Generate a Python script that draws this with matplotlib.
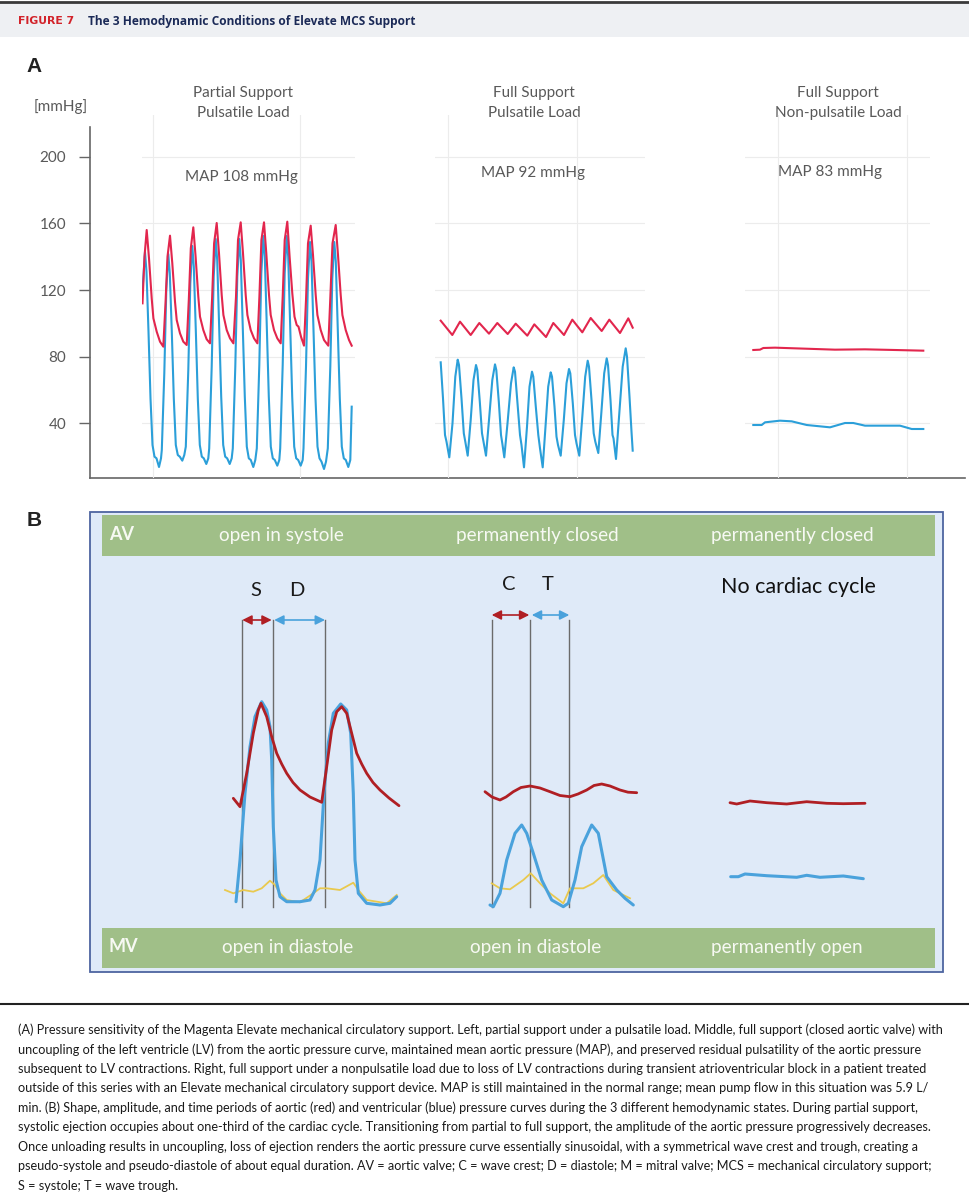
import matplotlib
matplotlib.use("Agg")
import matplotlib.pyplot as plt
from matplotlib.patches import Rectangle

plt.rcParams['font.family'] = ['Lato', 'DejaVu Sans']

# ---------------- data ----------------
y_ticks = [40, 80, 120, 160, 200]
panel_titles = ["Partial Support\nPulsatile Load", "Full Support\nPulsatile Load",
                "Full Support\nNon-pulsatile Load"]
map_labels = ["MAP 108 mmHg", "MAP 92 mmHg", "MAP 83 mmHg"]

# panel A traces: (time [a.u.], pressure [mmHg])
partial_aortic = [
    (0.5, 112), (2.5, 140), (4.7, 156),
    (7, 139), (9.7, 115), (11.4, 103), (14.7, 95), (18, 89), (21.3, 86),
    (23.5, 112), (25.5, 140), (28, 152.6),
    (30.3, 136), (33, 113), (34.7, 102), (38, 94), (41.3, 89), (44.7, 87),
    (46.8, 114), (48.8, 145), (51.3, 157.6),
    (53.6, 140), (56.3, 116), (58, 104), (61.3, 96), (64.6, 90.5), (68, 88),
    (70.1, 115), (72.1, 148), (74.7, 160.2),
    (77, 142), (79.7, 117), (81.4, 105), (84.7, 96), (88, 91), (91.4, 88),
    (94, 116), (96, 150), (98.7, 160.6),
    (101, 142), (103.7, 117), (105.4, 105), (108.7, 96), (112, 91), (115.4, 88),
    (117.4, 116), (119.4, 150), (122, 160.6),
    (124.3, 142), (127, 117), (128.7, 105), (132, 96), (135.3, 91), (138.7, 88),
    (140.7, 116), (142.7, 150), (145.3, 161),
    (147.6, 140), (150.3, 118), (152.5, 104), (154.7, 99), (156.5, 98), (159, 92), (162, 86.6),
    (164, 114), (166, 148), (168.7, 158.6),
    (171, 141), (173.7, 117), (175.4, 105), (178.7, 96), (182, 90), (186.3, 86.6),
    (188.3, 115), (190.5, 148), (193.7, 159),
    (196, 141), (198.7, 117), (200.4, 105), (203.7, 96), (207, 90), (209.7, 86.6),
]
partial_lv = [
    (0.5, 120), (3, 142.8), (4.5, 131), (6.5, 95), (8.5, 55), (10.5, 27), (12.5, 20), (14.5, 19),
    (17, 13.8), (19, 19), (19.8, 24),
    (22.3, 70), (24.3, 120), (26.3, 141.6), (27.8, 130), (29.8, 95), (31.8, 55), (33.8, 27),
    (35.8, 21), (37.8, 20), (40.3, 17.6), (42.3, 21), (43.8, 26),
    (46.3, 72), (48.3, 124), (50.3, 146.4), (51.8, 134), (53.8, 96), (55.8, 55), (57.8, 27),
    (59.8, 20), (61.8, 19), (64.3, 15.6), (66.3, 19), (67.2, 25),
    (69.7, 74), (71.7, 128), (73.7, 150.6), (75.2, 138), (77.2, 97), (79.2, 56), (81.2, 27),
    (83.2, 20), (85.2, 19), (87.7, 15.6), (89.7, 19), (90.8, 25),
    (93.3, 74), (95.3, 128), (97.3, 150.6), (98.8, 138), (100.8, 97), (102.8, 56), (104.8, 26),
    (106.8, 19), (108.8, 18), (111.3, 13.8), (113.3, 18), (114.8, 25),
    (117.3, 75), (119.3, 130), (121.3, 152.4), (122.8, 140), (124.8, 98), (126.8, 56), (128.8, 26),
    (130.8, 19), (132.8, 18), (135.3, 14.6), (137.3, 18), (138.2, 25),
    (140.7, 75), (142.7, 130), (144.7, 152.4), (146.2, 140), (148.2, 98), (150.2, 56), (152.2, 26),
    (154.2, 19), (156.2, 18), (158.7, 14.6), (160.7, 18), (161.5, 25),
    (164, 74), (166, 127), (168, 148.8), (169.5, 137), (171.5, 96), (173.5, 55), (175.5, 26),
    (177.5, 19), (179.5, 17), (182, 12.6), (184, 17), (185.8, 25),
    (188.3, 74), (190.3, 127), (192.3, 148.8), (193.8, 137), (195.8, 96), (197.8, 55), (199.8, 26),
    (201.8, 19), (203.8, 18), (206.3, 13.8), (208.3, 18), (209.7, 50),
]
full_aortic = [
    (5.7, 101.6), (17.3, 93), (25, 101), (35.7, 93), (44.3, 100.2), (54, 93.8), (62.3, 100.2),
    (72.7, 93.6), (80.7, 99.8), (92.3, 92.6), (99.3, 99.4), (111, 91.8), (118.3, 100.2),
    (129, 93), (137.3, 102.2), (147.3, 94.6), (155.7, 103.2), (166.7, 95.4), (174.3, 102.2),
    (185, 94.2), (193.3, 103), (197.7, 97.4),
]
full_lv = [
    (5.7, 76.6), (8, 55), (10, 33), (11.5, 29), (14.3, 19.6),
    (17.5, 40), (20.3, 68), (22.7, 78.2), (24, 75), (26.5, 55), (28.8, 34), (30.3, 29), (32.7, 20.6),
    (35.7, 42), (38.5, 66), (41, 75), (42.3, 72), (44.8, 53), (47, 34), (48.5, 29), (51, 20.6),
    (54, 42), (57.3, 66), (60, 75.4), (61.3, 72), (63.8, 53), (66, 33), (67.3, 28), (69.3, 19.6),
    (72.5, 40), (76, 64), (78.7, 73.6), (80, 71), (82.5, 52), (85, 33), (86.5, 27), (89, 13.6),
    (92, 38), (94.5, 62), (97, 71), (98.3, 68), (100.8, 50), (103.3, 33), (105, 25), (107.7, 13.6),
    (110.5, 38), (113.2, 62), (115.7, 70.6), (117, 68), (119.5, 50), (121.5, 32), (123, 27), (125.7, 20.6),
    (128.8, 42), (131.5, 64), (134, 72.6), (135.3, 70), (137.8, 52), (140, 33), (141.5, 28), (144.3, 20.6),
    (147.3, 44), (150.2, 68), (152.7, 77.6), (154, 74), (156.5, 54), (158.7, 34), (160.3, 29), (163.3, 22.2),
    (166.3, 46), (169.2, 70), (171.7, 79), (173, 75), (175.5, 54), (177.5, 33), (178.5, 31), (179.5, 26),
    (181, 18.6), (184.3, 46), (187.7, 74), (190.7, 85), (192, 80), (194.5, 56), (196.5, 35), (197.7, 23.6),
]
nonpuls_aortic = [(8.3, 84), (15, 84.2), (18.3, 85.2), (30, 85.4), (60, 84.8), (90, 84.2),
                  (120, 84.4), (150, 84), (178.3, 83.6)]
nonpuls_lv = [(8.3, 39), (16.7, 39), (20, 40.6), (35, 41.6), (46.7, 41.2), (61.7, 39), (85, 37.6),
              (100, 40.2), (108.3, 40.2), (120, 38.6), (155, 38.6), (166.7, 36.6), (178.3, 36.6)]

# panel B schematic curves: (time [a.u.], relative pressure [a.u.])
b_partial_aortic = [
    (33.3, 111.7), (40, 103.3), (46.7, 136.7), (53.3, 176.7), (58.3, 200), (61, 206.7),
    (66.7, 193.3), (71.7, 173.3), (76.7, 156.7), (81.7, 146), (86.7, 136.7), (93, 127.5),
    (100, 120), (110, 113), (121.7, 107.7),
    (126.7, 143.3), (131.7, 180), (136.7, 198.3), (141.7, 203.3), (146.7, 196.7), (151.7, 176.7),
    (156.7, 156.7), (161.7, 146), (166.7, 136.7), (173, 127.5), (180, 120), (189, 112),
    (199, 104.3),
]
b_partial_lv = [
    (36, 8.3), (40, 50), (45, 116.7), (50, 163.3), (55, 193.3), (61.7, 208.3), (66.7, 200),
    (70, 183.3), (71.7, 150), (73.3, 83.3), (76, 30), (80, 13.3), (86.7, 8.3), (100, 8.3),
    (110, 10), (115, 20), (120, 50), (124, 116.7), (128.3, 166.7), (133.3, 196.7), (140.7, 206),
    (146.7, 200), (150.7, 176.7), (153.3, 116.7), (155, 50), (158.3, 16.7), (166.7, 6.7),
    (180, 5), (190, 6.7), (196.7, 13.3),
]
b_partial_la = [
    (25, 20), (33.3, 16.7), (43.3, 20), (53.3, 18.3), (61.7, 21.7), (70, 29.3), (75, 25),
    (80, 16.7), (86.7, 10), (100, 7.7), (113.3, 16.7), (120, 21.7), (126.7, 21.7), (140, 20),
    (153.3, 27.3), (158.3, 20), (166.7, 10), (186.7, 6.7), (196.7, 15),
]
b_full_aortic = [
    (285, 118.3), (292, 113), (300, 110), (306, 113), (313.3, 118.3), (321, 122.5), (330, 124),
    (340, 122), (350, 118.3), (360, 114.5), (370, 113.3), (378, 116), (386.7, 120), (394, 124.5),
    (401.7, 126), (410, 124), (420, 120), (428, 117.8), (436.7, 117.3),
]
b_full_lv = [
    (290, 5), (293.3, 3.3), (300, 16.7), (306.7, 50), (315, 76.7), (321.7, 85), (326.7, 76.7),
    (333.3, 56.7), (341.7, 30), (351.7, 10), (363.3, 3.3), (368.3, 6.7), (375, 30), (381.7, 63.3),
    (391.7, 85), (398.3, 76.7), (406.7, 33.3), (416.7, 20), (425, 11.7), (433.3, 5),
]
b_full_la = [
    (291.7, 26.7), (300, 21.7), (310, 20.7), (323.3, 30), (330.7, 36.7), (340, 26.7), (350, 16.7),
    (363.3, 6.7), (370, 21.7), (383.3, 21.7), (393.3, 26.7), (403.3, 35), (413.3, 20), (423.3, 15),
    (430, 11.7),
]
b_nonpuls_aortic = [(530, 107.3), (536.7, 106), (550, 109), (566.7, 107.3), (586.7, 106),
                    (606.7, 108.3), (626.7, 106.7), (643.3, 106.3), (665, 106.7)]
b_nonpuls_lv = [(530.7, 33.3), (538.3, 33.3), (545, 36), (566.7, 34.3), (596.7, 32.7),
                (606.7, 34.7), (620, 32.7), (643.3, 34), (663.3, 31.3)]

phase_marks_partial = [42.3, 72.7, 125]   # S | D
phase_marks_full = [291.7, 330.3, 369.3]  # C | T

av_labels = ["open in systole", "permanently closed", "permanently closed"]
mv_labels = ["open in diastole", "open in diastole", "permanently open"]

caption_lines = [
    "(A) Pressure sensitivity of the Magenta Elevate mechanical circulatory support. Left, partial support under a pulsatile load. Middle, full support (closed aortic valve) with",
    "uncoupling of the left ventricle (LV) from the aortic pressure curve, maintained mean aortic pressure (MAP), and preserved residual pulsatility of the aortic pressure",
    "subsequent to LV contractions. Right, full support under a nonpulsatile load due to loss of LV contractions during transient atrioventricular block in a patient treated",
    "outside of this series with an Elevate mechanical circulatory support device. MAP is still maintained in the normal range; mean pump flow in this situation was 5.9 L/",
    "min. (B) Shape, amplitude, and time periods of aortic (red) and ventricular (blue) pressure curves during the 3 different hemodynamic states. During partial support,",
    "systolic ejection occupies about one-third of the cardiac cycle. Transitioning from partial to full support, the amplitude of the aortic pressure progressively decreases.",
    "Once unloading results in uncoupling, loss of ejection renders the aortic pressure curve essentially sinusoidal, with a symmetrical wave crest and trough, creating a",
    "pseudo-systole and pseudo-diastole of about equal duration. AV = aortic valve; C = wave crest; D = diastole; M = mitral valve; MCS = mechanical circulatory support;",
    "S = systole; T = wave trough.",
]

RED_A, BLUE_A = '#e2264d', '#2b9fd9'
RED_B, BLUE_B, YEL_B = '#b01f24', '#4aa2dc', '#e9c94e'
GRAY_TXT = '#595959'

W, H = 970, 1200
fig = plt.figure(figsize=(W / 100, H / 100), dpi=100)


def box(x0, y0, x1, y1):
    return [x0 / W, 1 - y1 / H, (x1 - x0) / W, (y1 - y0) / H]


def xy(pairs):
    return [p[0] for p in pairs], [p[1] for p in pairs]


# background / layout layer
bg = fig.add_axes([0, 0, 1, 1])
bg.set_xlim(0, W)
bg.set_ylim(H, 0)
bg.axis('off')

bg.add_patch(Rectangle((0, 3), W, 34, color='#eef0f3', lw=0))
bg.plot([0, W], [1.5, 1.5], color='#3a3a3a', lw=2)
bg.text(18, 21, "FIGURE 7", color='#d2232a', weight='bold', fontsize=7.8,
        family='DejaVu Sans', va='center')
bg.text(88, 21, "The 3 Hemodynamic Conditions of Elevate MCS Support", color='#1b2a57',
        weight='bold', fontsize=8.6, family='Open Sans', va='center')

bg.text(34, 67, "A", fontsize=15, weight='bold', family='Liberation Sans', color='#222',
        ha='center', va='center')
bg.text(34, 520, "B", fontsize=15, weight='bold', family='Liberation Sans', color='#222',
        ha='center', va='center')
bg.text(61, 107, "[mmHg]", fontsize=11, color=GRAY_TXT, ha='center', va='center')

title_x = [243, 534, 838]
map_x = [241, 533, 830]
map_y = [177, 173, 172]
for i in range(3):
    bg.text(title_x[i], 103, panel_titles[i], fontsize=11, color=GRAY_TXT, ha='center',
            va='center', linespacing=1.5)
    bg.text(map_x[i], map_y[i], map_labels[i], fontsize=11, color=GRAY_TXT, ha='center',
            va='center')

# panel B frame
bg.add_patch(Rectangle((90, 512), 853, 460, facecolor='#dfeaf8', edgecolor='#4d64a0', lw=1.3))
bg.add_patch(Rectangle((102, 515), 833, 41, color='#a0bf88', lw=0))
bg.add_patch(Rectangle((102, 928), 833, 40, color='#a0bf88', lw=0))
bg.text(109, 535, "AV", fontsize=13, weight='bold', color='#f7f9f3', va='center')
bg.text(109, 946, "MV", fontsize=13, weight='bold', color='#f7f9f3', va='center')
for lab, x in zip(av_labels, [281, 537, 792]):
    bg.text(x, 536, lab, fontsize=13.6, color='#f7f9f3', ha='center', va='center')
for lab, x in zip(mv_labels, [288, 536, 787]):
    bg.text(x, 947, lab, fontsize=13.6, color='#f7f9f3', ha='center', va='center')
bg.text(798, 587, "No cardiac cycle", fontsize=15.5, color='#111', ha='center', va='center')

# caption
bg.plot([0, W], [1004, 1004], color='#222', lw=1.5)
for i, line in enumerate(caption_lines):
    bg.text(18, 1030 + i * 19.45, line, fontsize=9.1, color='#1a1a1a', va='center')

# ---------------- panel A ----------------
ylim = (7.2, 225)
axA = fig.add_axes(box(90, 115, 965, 478))
axA.patch.set_alpha(0)
axA.set_ylim(*ylim)
axA.set_xticks([])
axA.set_yticks(y_ticks)
for s in ['top', 'right']:
    axA.spines[s].set_visible(False)
for s in ['left', 'bottom']:
    axA.spines[s].set_color('#666')
    axA.spines[s].set_linewidth(1.2)
axA.spines['left'].set_bounds(ylim[0], 217.8)
axA.tick_params(axis='y', direction='out', length=8, width=1, color='#666',
                labelcolor=GRAY_TXT, labelsize=11, pad=9)

panels = [
    ((142, 355), [11, 158], partial_aortic, partial_lv),
    ((435, 645), [13, 142], full_aortic, full_lv),
    ((745, 930), [33, 162], nonpuls_aortic, nonpuls_lv),
]
for (x0, x1), grid_t, aortic, lv in panels:
    ax = fig.add_axes(box(x0, 115, x1, 478))
    ax.patch.set_alpha(0)
    ax.set_xlim(0, x1 - x0)
    ax.set_ylim(*ylim)
    ax.set_xticks(grid_t)
    ax.set_yticks(y_ticks)
    ax.grid(True, color='#ececec', lw=0.8)
    ax.tick_params(length=0, labelleft=False, labelbottom=False)
    for s in ax.spines.values():
        s.set_visible(False)
    ax.plot(*xy(lv), color=BLUE_A, lw=1.5, solid_joinstyle='round')
    ax.plot(*xy(aortic), color=RED_A, lw=1.5, solid_joinstyle='round')

# ---------------- panel B ----------------
axB = fig.add_axes(box(200, 600, 900, 910))
axB.set_xlim(0, 700)
axB.set_ylim(0, 310)
axB.axis('off')

for marks, arrow_y, labels in [(phase_marks_partial, 290, ("S", "D")),
                               (phase_marks_full, 295, ("C", "T"))]:
    for m in marks:
        axB.plot([m, m], [3, 290], color='#6b6b6b', lw=1)
    axB.annotate("", xy=(marks[0], arrow_y), xytext=(marks[1] - 1, arrow_y),
                 arrowprops=dict(arrowstyle='<|-|>', color=RED_B, lw=1.2, mutation_scale=14,
                                 shrinkA=0, shrinkB=0))
    axB.annotate("", xy=(marks[1] + 1.5, arrow_y), xytext=(marks[2], arrow_y),
                 arrowprops=dict(arrowstyle='<|-|>', color=BLUE_B, lw=1.2, mutation_scale=14,
                                 shrinkA=0, shrinkB=0))
    for k, lab in enumerate(labels):
        axB.text((marks[k] + marks[k + 1]) / 2 - 2, arrow_y + 30, lab, fontsize=14.5,
                 color='#1a1a1a', ha='center', va='center')

for la in [b_partial_la, b_full_la]:
    axB.plot(*xy(la), color=YEL_B, lw=1.3, clip_on=False, solid_joinstyle='round')
for lv in [b_partial_lv, b_full_lv, b_nonpuls_lv]:
    axB.plot(*xy(lv), color=BLUE_B, lw=2.2, clip_on=False, solid_capstyle='round',
             solid_joinstyle='round')
for ao in [b_partial_aortic, b_full_aortic, b_nonpuls_aortic]:
    axB.plot(*xy(ao), color=RED_B, lw=2.0, clip_on=False, solid_capstyle='round',
             solid_joinstyle='round')

fig.savefig("out.png", dpi=100)
